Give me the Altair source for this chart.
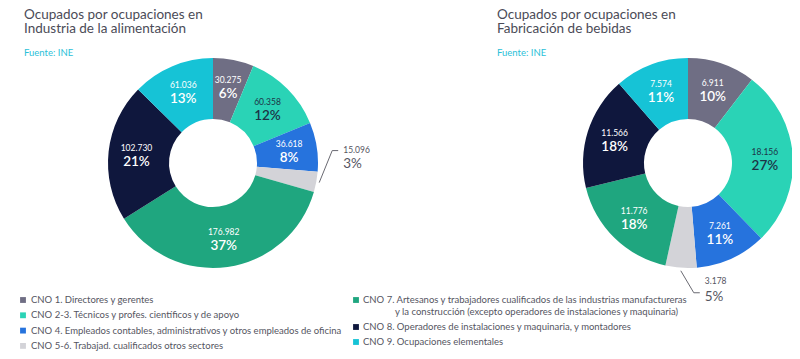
import math
import altair as alt
import pandas as pd

# ---------------- data ----------------
codes = ["CNO 1", "CNO 2-3", "CNO 4", "CNO 5-6", "CNO 7", "CNO 8", "CNO 9"]
colors = ["#6f6e84", "#2ad3b6", "#2673dd", "#d3d3d8", "#1fa67f", "#0f173d", "#16c3d6"]

legend_left = [
    "CNO 1. Directores y gerentes",
    "CNO 2-3. Técnicos y profes. científicos y de apoyo",
    "CNO 4. Empleados contables, administrativos y otros empleados de oficina",
    "CNO 5-6. Trabajad. cualificados otros sectores",
]
legend_left_codes = ["CNO 1", "CNO 2-3", "CNO 4", "CNO 5-6"]
legend_right = [
    "CNO 7. Artesanos y trabajadores cualificados de las industrias manufactureras",
    "CNO 8. Operadores de instalaciones y maquinaria, y montadores",
    "CNO 9. Ocupaciones elementales",
]
legend_right_codes = ["CNO 7", "CNO 8", "CNO 9"]
legend_cont = "y la construcción (excepto operadores de instalaciones y maquinaria)"

alim_values = [30275, 60358, 36618, 15096, 176982, 102730, 61036]
alim_pct = [6, 12, 8, 3, 37, 21, 13]
beb_values = [6911, 18156, 7261, 3178, 11776, 11566, 7574]
beb_pct = [10, 27, 11, 5, 18, 18, 11]

title_alim = ["Ocupados por ocupaciones en", "Industria de la alimentación"]
title_beb = ["Ocupados por ocupaciones en", "Fabricación de bebidas"]
source_text = "Fuente: INE"

# ---------------- layout / style ----------------
W, H = 784, 343
FONT = "Lato"
R_OUT, R_IN, R_LBL = 105, 44, 77
DARK_LBL = "#1d3346"
TITLE_C = "#4b4b57"
LEG_C = "#55555f"
OUT_C = "#55555f"

color_scale = alt.Scale(domain=codes, range=colors)
xs = alt.Scale(domain=[0, W], range=[0, W], nice=False, zero=False)
ys = alt.Scale(domain=[0, H], range=[0, H], nice=False, zero=False)


def fmt(v):
    return f"{v:,}".replace(",", ".")


def donut(values, pcts, cx, cy):
    df = pd.DataFrame({
        "code": codes,
        "idx": list(range(len(codes))),
        "value": values,
        "num": [fmt(v) for v in values],
        "pct": [f"{p}%" for p in pcts],
    })
    base = alt.Chart(df).encode(
        theta=alt.Theta("value:Q", stack=True),
        order=alt.Order("idx:Q", sort="ascending"),
        x=alt.value(cx),
        y=alt.value(cy),
    )
    arc = base.mark_arc(innerRadius=R_IN, outerRadius=R_OUT).encode(
        color=alt.Color("code:N", scale=color_scale, legend=None)
    )
    inside = "datum.code != 'CNO 5-6'"
    tcol = alt.condition("datum.code == 'CNO 2-3'", alt.value(DARK_LBL), alt.value("white"))
    num = base.mark_text(radius=R_LBL, dy=-7, fontSize=8.5, font=FONT).encode(
        text=alt.condition(inside, alt.Text("num:N"), alt.value("")),
        color=tcol,
    )
    pct = base.mark_text(radius=R_LBL, dy=7, fontSize=13.5, font=FONT, fontWeight=600).encode(
        text=alt.condition(inside, alt.Text("pct:N"), alt.value("")),
        color=tcol,
    )
    return alt.layer(arc, num, pct)


def leader(values, pcts, cx, cy, k, off, dy_num, dy_pct, grp):
    total = sum(values)
    before = sum(values[:k])
    mid = (before + values[k] / 2) / total * 2 * math.pi
    r = R_OUT + 3
    x1, y1 = cx + r * math.sin(mid), cy - r * math.cos(mid)
    x2, y2 = x1 + off[0], y1 + off[1]
    x3, y3 = x2 + 6, y2
    pts = pd.DataFrame({"grp": grp, "i": [0, 1, 2], "x": [x1, x2, x3], "y": [y1, y2, y3]})
    lbl = pd.DataFrame({
        "x": [x3 + 5, x3 + 5],
        "y": [y2 + dy_num, y2 + dy_pct],
        "t": [fmt(values[k]), f"{pcts[k]}%"],
        "s": [8.5, 13.5],
    })
    line = alt.Chart(pts).mark_line(color="#6a6a72", strokeWidth=1).encode(
        x=alt.X("x:Q", scale=xs, axis=None),
        y=alt.Y("y:Q", scale=ys, axis=None),
        order="i:Q",
    )
    txt = alt.Chart(lbl).mark_text(align="left", baseline="middle", font=FONT, color=OUT_C).encode(
        x=alt.X("x:Q", scale=xs, axis=None),
        y=alt.Y("y:Q", scale=ys, axis=None),
        text="t:N",
        size=alt.Size("s:Q", scale=None, legend=None),
    )
    return alt.layer(line, txt)


CX_L, CX_R, CY = 205, 680, 155
K56 = codes.index("CNO 5-6")

donut_l = donut(alim_values, alim_pct, CX_L, CY)
donut_r = donut(beb_values, beb_pct, CX_R, CY)
lead_l = leader(alim_values, alim_pct, CX_L, CY, K56, (13, -32), -1, 13, "a")
lead_r = leader(beb_values, beb_pct, CX_R, CY, K56, (13, 22), -12, 4, "b")


def title_layer(lines, x):
    t1 = alt.Chart(pd.DataFrame({"t": [lines[0]]})).mark_text(
        align="left", baseline="alphabetic", font=FONT, fontSize=13.5, color=TITLE_C
    ).encode(text="t:N", x=alt.value(x), y=alt.value(11))
    t2 = alt.Chart(pd.DataFrame({"t": [lines[1]]})).mark_text(
        align="left", baseline="alphabetic", font=FONT, fontSize=13.5, color=TITLE_C
    ).encode(text="t:N", x=alt.value(x), y=alt.value(25))
    s = alt.Chart(pd.DataFrame({"t": [source_text]})).mark_text(
        align="left", baseline="alphabetic", font=FONT, fontSize=9.5, color="#2bbfd8"
    ).encode(text="t:N", x=alt.value(x), y=alt.value(48))
    return alt.layer(t1, t2, s)


titles_l = title_layer(title_alim, 16)
titles_r = title_layer(title_beb, 489)

# legend
left_rows_y = [292 + 15.3 * i for i in range(len(legend_left))]
right_rows_y = [292, 319, 334]
leg = pd.DataFrame({
    "code": legend_left_codes + legend_right_codes,
    "label": legend_left + legend_right,
    "sx": [15] * len(legend_left) + [348] * len(legend_right),
    "tx": [23] * len(legend_left) + [355] * len(legend_right),
    "y": left_rows_y + right_rows_y,
})
leg_sq = alt.Chart(leg).mark_square(size=34, opacity=1).encode(
    x=alt.X("sx:Q", scale=xs, axis=None),
    y=alt.Y("y:Q", scale=ys, axis=None),
    color=alt.Color("code:N", scale=color_scale, legend=None),
)
leg_tx = alt.Chart(leg).mark_text(align="left", baseline="middle", font=FONT, fontSize=9.5, color=LEG_C).encode(
    x=alt.X("tx:Q", scale=xs, axis=None),
    y=alt.Y("y:Q", scale=ys, axis=None),
    text="label:N",
)
leg_cont = alt.Chart(pd.DataFrame({"t": [legend_cont], "x": [387], "y": [304]})).mark_text(
    align="left", baseline="middle", font=FONT, fontSize=9.5, color=LEG_C
).encode(
    x=alt.X("x:Q", scale=xs, axis=None),
    y=alt.Y("y:Q", scale=ys, axis=None),
    text="t:N",
)

chart = alt.layer(
    donut_l, donut_r, lead_l, lead_r, titles_l, titles_r, leg_sq, leg_tx, leg_cont
).resolve_scale(theta="independent").properties(
    width=W, height=H, padding=0, autosize=alt.AutoSizeParams(type="none"),
    background="white"
).configure_view(stroke=None)

chart.save("out.html", embed_options={"renderer": "svg", "actions": False})
